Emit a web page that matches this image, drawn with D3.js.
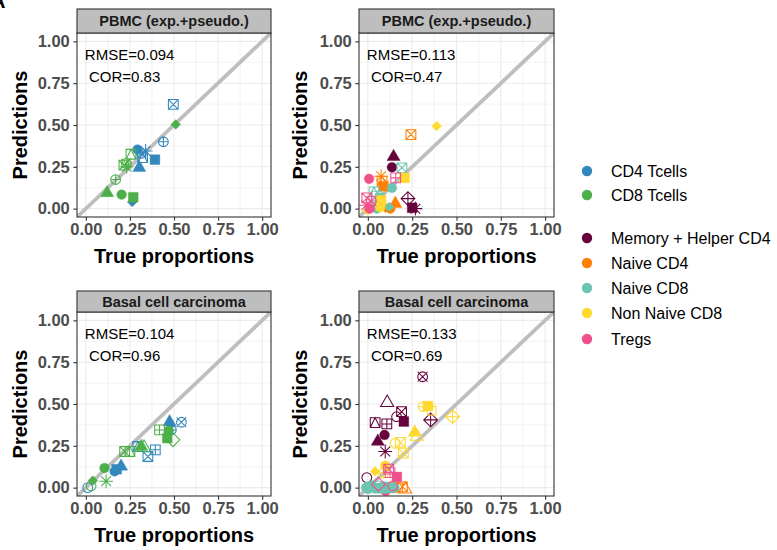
<!DOCTYPE html>
<html>
<head>
<meta charset="utf-8">
<script src="https://cdn.jsdelivr.net/npm/d3@7"></script>
<style>
  html, body { margin: 0; padding: 0; background: #fff; }
  svg { display: block; font-family: "Liberation Sans", Arial, sans-serif; }
</style>
</head>
<body>
<svg id="chart" width="777" height="550"></svg>
<script>
// ---------------- DATA ----------------
const coarseCellTypes = ["CD4 Tcells", "CD8 Tcells"];
const fineCellTypes = ["Memory + Helper CD4", "Naive CD4", "Naive CD8", "Non Naive CD8", "Tregs"];
const cellColors = ["#3288BD", "#4DAF4A", "#66023C", "#FF7F00", "#6CC5B0", "#FFD92F", "#F0508C"];
const allCellTypes = coarseCellTypes.concat(fineCellTypes);

const panelTitles = ["PBMC (exp.+pseudo.)", "PBMC (exp.+pseudo.)", "Basal cell carcinoma", "Basal cell carcinoma"];
const rmseLabels = ["RMSE=0.094", "RMSE=0.113", "RMSE=0.104", "RMSE=0.133"];
const corLabels = ["COR=0.83", "COR=0.47", "COR=0.96", "COR=0.69"];
const axisTicks = [0, 0.25, 0.5, 0.75, 1];
const axisTickLabels = ["0.00", "0.25", "0.50", "0.75", "1.00"];
const xAxisTitle = "True proportions";
const yAxisTitle = "Predictions";

// points: [cell type, R point shape (pch), true proportion, prediction]
const pbmcCoarsePoints = [
  ["CD4 Tcells", 7, 0.496, 0.623],
  ["CD4 Tcells", 10, 0.44, 0.40],
  ["CD4 Tcells", 16, 0.293, 0.353],
  ["CD4 Tcells", 8, 0.339, 0.345],
  ["CD4 Tcells", 13, 0.315, 0.33],
  ["CD4 Tcells", 14, 0.322, 0.305],
  ["CD4 Tcells", 15, 0.392, 0.293],
  ["CD4 Tcells", 17, 0.303, 0.245],
  ["CD4 Tcells", 18, 0.263, 0.04],
  ["CD8 Tcells", 18, 0.51, 0.503],
  ["CD8 Tcells", 14, 0.256, 0.325],
  ["CD8 Tcells", 13, 0.23, 0.27],
  ["CD8 Tcells", 7, 0.216, 0.26],
  ["CD8 Tcells", 8, 0.232, 0.25],
  ["CD8 Tcells", 10, 0.169, 0.174],
  ["CD8 Tcells", 17, 0.121, 0.094],
  ["CD8 Tcells", 16, 0.203, 0.084],
  ["CD8 Tcells", 15, 0.269, 0.068]
];

const pbmcFinePoints = [
  ["Memory + Helper CD4", 17, 0.145, 0.31],
  ["Memory + Helper CD4", 16, 0.136, 0.247],
  ["Memory + Helper CD4", 9, 0.226, 0.06],
  ["Memory + Helper CD4", 15, 0.25, 0.005],
  ["Memory + Helper CD4", 8, 0.268, 0.0],
  ["Naive CD4", 7, 0.243, 0.443],
  ["Naive CD4", 8, 0.075, 0.194],
  ["Naive CD4", 14, 0.08, 0.165],
  ["Naive CD4", 15, 0.088, 0.134],
  ["Naive CD4", 17, 0.155, 0.03],
  ["Naive CD4", 16, 0.127, 0.0],
  ["Naive CD4", 18, 0.1, 0.005],
  ["Naive CD8", 7, 0.192, 0.244],
  ["Naive CD8", 16, 0.136, 0.124],
  ["Naive CD8", 14, 0.035, 0.1],
  ["Naive CD8", 12, 0.05, 0.075],
  ["Naive CD8", 15, 0.069, 0.064],
  ["Naive CD8", 16, 0.05, 0.0],
  ["Naive CD8", 18, 0.12, 0.01],
  ["Non Naive CD8", 18, 0.388, 0.493],
  ["Non Naive CD8", 15, 0.207, 0.184],
  ["Non Naive CD8", 15, 0.075, 0.05],
  ["Non Naive CD8", 16, 0.07, 0.008],
  ["Non Naive CD8", 16, 0.0, -0.005],
  ["Tregs", 16, 0.007, 0.178],
  ["Tregs", 12, 0.157, 0.184],
  ["Tregs", 7, -0.006, 0.064],
  ["Tregs", 13, 0.02, 0.045],
  ["Tregs", 8, -0.01, 0.02],
  ["Tregs", 16, 0.01, 0.0]
];

const bccCoarsePoints = [
  ["CD4 Tcells", 13, 0.542, 0.391],
  ["CD4 Tcells", 17, 0.475, 0.392],
  ["CD4 Tcells", 18, 0.48, 0.375],
  ["CD4 Tcells", 10, 0.485, 0.345],
  ["CD4 Tcells", 14, 0.295, 0.246],
  ["CD4 Tcells", 12, 0.394, 0.226],
  ["CD4 Tcells", 7, 0.352, 0.186],
  ["CD4 Tcells", 15, 0.175, 0.11],
  ["CD4 Tcells", 17, 0.2, 0.127],
  ["CD4 Tcells", 16, 0.163, 0.097],
  ["CD4 Tcells", 1, 0.011, 0.0],
  ["CD8 Tcells", 12, 0.418, 0.345],
  ["CD8 Tcells", 16, 0.47, 0.34],
  ["CD8 Tcells", 15, 0.462, 0.296],
  ["CD8 Tcells", 5, 0.494, 0.286],
  ["CD8 Tcells", 17, 0.314, 0.246],
  ["CD8 Tcells", 2, 0.33, 0.24],
  ["CD8 Tcells", 7, 0.22, 0.216],
  ["CD8 Tcells", 14, 0.25, 0.216],
  ["CD8 Tcells", 16, 0.106, 0.117],
  ["CD8 Tcells", 18, 0.04, 0.042],
  ["CD8 Tcells", 8, 0.115, 0.038],
  ["CD8 Tcells", 1, 0.03, 0.01]
];

const bccFinePoints = [
  ["Memory + Helper CD4", 13, 0.309, 0.663],
  ["Memory + Helper CD4", 2, 0.109, 0.508],
  ["Memory + Helper CD4", 7, 0.19, 0.454],
  ["Memory + Helper CD4", 1, 0.162, 0.424],
  ["Memory + Helper CD4", 15, 0.203, 0.395],
  ["Memory + Helper CD4", 14, 0.041, 0.389],
  ["Memory + Helper CD4", 12, 0.107, 0.381],
  ["Memory + Helper CD4", 9, 0.354, 0.405],
  ["Memory + Helper CD4", 16, 0.094, 0.315],
  ["Memory + Helper CD4", 17, 0.056, 0.276],
  ["Memory + Helper CD4", 8, 0.098, 0.216],
  ["Memory + Helper CD4", 1, -0.006, 0.06],
  ["Naive CD4", 0, 0.17, 0.0],
  ["Naive CD4", 7, 0.195, 0.005],
  ["Naive CD4", 2, 0.21, -0.01],
  ["Naive CD4", 12, 0.12, 0.0],
  ["Naive CD4", 0, 0.14, 0.0],
  ["Naive CD4", 1, 0.08, 0.0],
  ["Tregs", 16, 0.1, -0.02],
  ["Naive CD8", 16, -0.01, 0.0],
  ["Naive CD8", 15, 0.01, 0.005],
  ["Naive CD8", 16, 0.0, -0.008],
  ["Naive CD8", 10, 0.02, 0.01],
  ["Naive CD8", 17, 0.03, 0.0],
  ["Naive CD8", 16, 0.04, -0.006],
  ["Naive CD8", 18, 0.05, 0.0],
  ["Naive CD8", 13, 0.06, 0.01],
  ["Naive CD8", 16, 0.07, 0.0],
  ["Naive CD8", 15, 0.08, -0.005],
  ["Naive CD8", 1, 0.09, 0.0],
  ["Naive CD8", 16, 0.1, 0.006],
  ["Naive CD8", 16, 0.11, -0.004],
  ["Naive CD8", 15, 0.13, 0.0],
  ["Naive CD8", 16, 0.15, 0.0],
  ["Non Naive CD8", 10, 0.312, 0.484],
  ["Non Naive CD8", 15, 0.34, 0.488],
  ["Non Naive CD8", 0, 0.36, 0.46],
  ["Non Naive CD8", 9, 0.478, 0.424],
  ["Non Naive CD8", 17, 0.264, 0.33],
  ["Non Naive CD8", 2, 0.276, 0.306],
  ["Non Naive CD8", 7, 0.183, 0.27],
  ["Non Naive CD8", 1, 0.154, 0.265],
  ["Non Naive CD8", 7, 0.2, 0.206],
  ["Non Naive CD8", 16, 0.098, 0.131],
  ["Non Naive CD8", 18, 0.041, 0.097],
  ["Non Naive CD8", 10, 0.089, 0.087],
  ["Tregs", 7, 0.117, 0.111],
  ["Tregs", 12, 0.125, 0.09],
  ["Tregs", 15, 0.164, 0.064],
  ["Tregs", 5, 0.06, 0.02],
  ["Tregs", 1, 0.14, 0.01]
];

const panelPoints = [pbmcCoarsePoints, pbmcFinePoints, bccCoarsePoints, bccFinePoints];

// ---------------- LAYOUT ----------------
const layout = [
  { left: 77, right: 271, top: 33, bottom: 217, stripTop: 9, ytitleX: 20 },
  { left: 359, right: 554, top: 33, bottom: 217, stripTop: 9, ytitleX: 300 },
  { left: 77, right: 271, top: 312, bottom: 496, stripTop: 291, ytitleX: 20 },
  { left: 359, right: 554, top: 312, bottom: 496, stripTop: 291, ytitleX: 300 }
];

const svg = d3.select("#chart");
const color = d3.scaleOrdinal().domain(allCellTypes).range(cellColors);

// R pch shape paths
const SQRC = 0.88622692545275801364, TRC0 = 1.55512030155621416073,
      TRC1 = 1.34677368708859836060, TRC2 = 0.77756015077810708036, S2 = Math.SQRT2;
function pchShape(p, size) {
  const R = 0.375 * size;
  const circ = r => `M${-r},0a${r},${r} 0 1,0 ${2*r},0a${r},${r} 0 1,0 ${-2*r},0Z`;
  const sq = h => `M${-h},${-h}H${h}V${h}H${-h}Z`;
  const plus = h => `M${-h},0H${h}M0,${-h}V${h}`;
  const cross = h => `M${-h},${-h}L${h},${h}M${-h},${h}L${h},${-h}`;
  const diam = h => `M${-h},0L0,${-h}L${h},0L0,${h}Z`;
  const triUp = xc => { const r = TRC0*xc, yc = TRC2*xc, w = TRC1*xc; return `M0,${-r}L${w},${yc}L${-w},${yc}Z`; };
  const triDown = xc => { const r = TRC0*xc, yc = TRC2*xc, w = TRC1*xc; return `M0,${r}L${w},${-yc}L${-w},${-yc}Z`; };
  switch (p) {
    case 0: return { d: sq(R*SQRC), fill: false };
    case 1: return { d: circ(R), fill: false };
    case 2: return { d: triUp(R), fill: false };
    case 3: return { d: plus(R*S2), fill: false };
    case 4: return { d: cross(R), fill: false };
    case 5: return { d: diam(R*S2), fill: false };
    case 6: return { d: triDown(R), fill: false };
    case 7: return { d: sq(R) + cross(R), fill: false };
    case 8: return { d: cross(R) + plus(R*S2), fill: false };
    case 9: return { d: diam(R*S2) + plus(R*S2), fill: false };
    case 10: return { d: circ(R) + plus(R), fill: false };
    case 11: {
      const r = TRC0*R, yc = 0.5*(TRC2*R + r), w = TRC1*R;
      return { d: `M0,${-r}L${w},${yc}L${-w},${yc}ZM0,${r}L${w},${-yc}L${-w},${-yc}Z`, fill: false };
    }
    case 12: return { d: sq(R) + plus(R), fill: false };
    case 13: return { d: circ(R) + cross(R), fill: false };
    case 14: return { d: sq(R) + `M${-R},${R}L0,${-R}L${R},${R}`, fill: false };
    case 15: return { d: sq(R), fill: true };
    case 16: return { d: circ(R), fill: true };
    case 17: return { d: triUp(R), fill: true };
    case 18: return { d: diam(R), fill: true };
  }
  return { d: circ(R), fill: false };
}

const POINT_SIZE = 13;
const tickColor = "#333333";

layout.forEach((L, i) => {
  const x = d3.scaleLinear().domain([-0.05, 1.05]).range([L.left, L.right]);
  const y = d3.scaleLinear().domain([-0.05, 1.05]).range([L.bottom, L.top]);
  const g = svg.append("g");

  g.append("rect").attr("x", L.left).attr("y", L.top)
    .attr("width", L.right - L.left).attr("height", L.bottom - L.top).attr("fill", "#fff");

  const minor = [0.125, 0.375, 0.625, 0.875];
  const grid = g.append("g");
  minor.forEach(v => {
    grid.append("line").attr("x1", x(v)).attr("x2", x(v)).attr("y1", L.top).attr("y2", L.bottom)
      .attr("stroke", "#EBEBEB").attr("stroke-width", 0.6);
    grid.append("line").attr("y1", y(v)).attr("y2", y(v)).attr("x1", L.left).attr("x2", L.right)
      .attr("stroke", "#EBEBEB").attr("stroke-width", 0.6);
  });
  axisTicks.forEach(v => {
    grid.append("line").attr("x1", x(v)).attr("x2", x(v)).attr("y1", L.top).attr("y2", L.bottom)
      .attr("stroke", "#EBEBEB").attr("stroke-width", 1.1);
    grid.append("line").attr("y1", y(v)).attr("y2", y(v)).attr("x1", L.left).attr("x2", L.right)
      .attr("stroke", "#EBEBEB").attr("stroke-width", 1.1);
  });

  const clipId = "clip" + i;
  svg.append("clipPath").attr("id", clipId).append("rect")
    .attr("x", L.left).attr("y", L.top).attr("width", L.right - L.left).attr("height", L.bottom - L.top);

  const inner = g.append("g").attr("clip-path", `url(#${clipId})`);
  inner.append("line").attr("x1", x(-0.05)).attr("y1", y(-0.05)).attr("x2", x(1.05)).attr("y2", y(1.05))
    .attr("stroke", "#BEBEBE").attr("stroke-width", 3.8);

  inner.selectAll("path.pt").data(panelPoints[i]).enter().append("path")
    .attr("class", "pt")
    .attr("transform", d => `translate(${x(d[2])},${y(d[3])})`)
    .attr("d", d => pchShape(d[1], POINT_SIZE).d)
    .attr("fill", d => pchShape(d[1], POINT_SIZE).fill ? color(d[0]) : "none")
    .attr("stroke", d => color(d[0]))
    .attr("stroke-width", d => pchShape(d[1], POINT_SIZE).fill ? 0.4 : 1.05);

  g.append("text").attr("x", x(0) - 1).attr("y", y(0.92)).attr("dy", "0.36em")
    .attr("font-size", 15).attr("fill", "#000").text(rmseLabels[i]);
  g.append("text").attr("x", x(0) - 1).attr("y", y(0.79)).attr("dy", "0.36em")
    .attr("font-size", 15).attr("fill", "#000").text("\u00A0" + corLabels[i]);

  g.append("rect").attr("x", L.left).attr("y", L.top)
    .attr("width", L.right - L.left).attr("height", L.bottom - L.top)
    .attr("fill", "none").attr("stroke", "#333333").attr("stroke-width", 1.1);

  g.append("rect").attr("x", L.left).attr("y", L.stripTop)
    .attr("width", L.right - L.left).attr("height", L.top - L.stripTop)
    .attr("fill", "#BEBEBE").attr("stroke", "#333333").attr("stroke-width", 1.1);
  g.append("text").attr("x", (L.left + L.right) / 2).attr("y", (L.top + L.stripTop) / 2)
    .attr("dy", "0.36em").attr("text-anchor", "middle")
    .attr("font-size", 14.5).attr("font-weight", "bold").attr("fill", "#1A1A1A").text(panelTitles[i]);

  const xAxis = g.append("g").attr("transform", `translate(0,${L.bottom})`)
    .call(d3.axisBottom(x).tickValues(axisTicks).tickFormat((d, k) => axisTickLabels[k]).tickSize(3.7).tickPadding(3));
  const yAxis = g.append("g").attr("transform", `translate(${L.left},0)`)
    .call(d3.axisLeft(y).tickValues(axisTicks).tickFormat((d, k) => axisTickLabels[k]).tickSize(3.7).tickPadding(3.5));
  [xAxis, yAxis].forEach(a => {
    a.select(".domain").remove();
    a.selectAll(".tick line").attr("stroke", tickColor).attr("stroke-width", 1.1);
    a.selectAll(".tick text").attr("font-size", 16.5).attr("font-weight", "bold")
      .attr("fill", "#4D4D4D").attr("font-family", "Liberation Sans, Arial, sans-serif");
  });

  g.append("text").attr("x", (L.left + L.right) / 2).attr("y", L.bottom + 46)
    .attr("text-anchor", "middle").attr("font-size", 20).attr("font-weight", "bold")
    .attr("fill", "#000").text(xAxisTitle);
  g.append("text").attr("transform", `translate(${L.ytitleX},${(L.top + L.bottom) / 2}) rotate(-90)`)
    .attr("dy", "0.36em").attr("text-anchor", "middle").attr("font-size", 20).attr("font-weight", "bold")
    .attr("fill", "#000").text(yAxisTitle);
});

// figure label (partly cut off at the edge, as in the reference)
svg.append("text").attr("x", -9).attr("y", 8).attr("font-size", 20).attr("font-weight", "bold")
  .attr("fill", "#000").text("A");

// legends
const legendCoarseY = [171, 195];
const legendFineY = [238, 263, 288, 313, 339];
const legend = svg.append("g");
function legendItems(types, ys) {
  types.forEach((t, k) => {
    legend.append("circle").attr("cx", 587).attr("cy", ys[k]).attr("r", 5.2).attr("fill", color(t));
    legend.append("text").attr("x", 611).attr("y", ys[k]).attr("dy", "0.36em")
      .attr("font-size", 16).attr("fill", "#000").text(t);
  });
}
legendItems(coarseCellTypes, legendCoarseY);
legendItems(fineCellTypes, legendFineY);
</script>
</body>
</html>
